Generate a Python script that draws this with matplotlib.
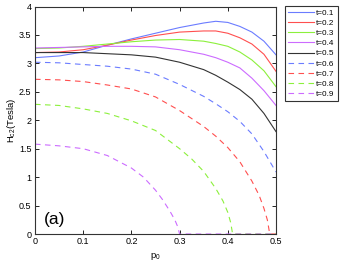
import numpy as np
import matplotlib
matplotlib.use('Agg')
import matplotlib.pyplot as plt

# values
p = [0, 0.05, 0.1, 0.15, 0.2, 0.25, 0.3, 0.35, 0.375, 0.4, 0.425, 0.45, 0.475, 0.5]
h_01 = [3.10, 3.13, 3.20, 3.32, 3.43, 3.53, 3.63, 3.71, 3.74, 3.72, 3.65, 3.55, 3.39, 3.15]
h_02 = [3.19, 3.20, 3.24, 3.32, 3.41, 3.49, 3.55, 3.57, 3.57, 3.53, 3.45, 3.34, 3.16, 2.86]
h_03 = [3.26, 3.27, 3.30, 3.34, 3.38, 3.41, 3.42, 3.39, 3.35, 3.30, 3.20, 3.06, 2.87, 2.59]
h_04 = [3.27, 3.28, 3.29, 3.30, 3.30, 3.29, 3.24, 3.16, 3.10, 3.02, 2.92, 2.74, 2.52, 2.26]
h_05 = [3.19, 3.19, 3.19, 3.17, 3.15, 3.11, 3.02, 2.89, 2.79, 2.67, 2.54, 2.37, 2.12, 1.80]
h_06 = [3.02, 3.01, 2.98, 2.95, 2.90, 2.81, 2.63, 2.42, 2.29, 2.15, 1.98, 1.76, 1.45, 1.09]

p_07 = [0, 0.05, 0.1, 0.15, 0.2, 0.25, 0.3, 0.35, 0.375, 0.4, 0.425, 0.45, 0.465, 0.475, 0.482, 0.487, 0.5]
h_07 = [2.72, 2.71, 2.68, 2.62, 2.55, 2.41, 2.17, 1.89, 1.72, 1.52, 1.27, 0.93, 0.68, 0.45, 0.25, 0.0, 0.0]
p_08 = [0, 0.05, 0.1, 0.15, 0.2, 0.25, 0.3, 0.325, 0.35, 0.375, 0.39, 0.4, 0.406, 0.41, 0.5]
h_08 = [2.28, 2.26, 2.20, 2.12, 1.99, 1.82, 1.50, 1.32, 1.10, 0.80, 0.58, 0.38, 0.20, 0.0, 0.0]
p_09 = [0, 0.05, 0.1, 0.15, 0.2, 0.225, 0.25, 0.265, 0.28, 0.29, 0.296, 0.3, 0.5]
h_09 = [1.58, 1.55, 1.50, 1.38, 1.16, 1.00, 0.77, 0.60, 0.40, 0.25, 0.13, 0.0, 0.0]

labels = ['t=0.1', 't=0.2', 't=0.3', 't=0.4', 't=0.5', 't=0.6', 't=0.7', 't=0.8', 't=0.9']
colors = ['#6b7cff', '#ff4f4f', '#8cf03c', '#cc6bff', '#333333',
          '#6b7cff', '#ff4f4f', '#8cf03c', '#cc6bff']

xticks = [0, 0.1, 0.2, 0.3, 0.4, 0.5]
xticklabels = ['0', '0.1', '0.2', '0.3', '0.4', '0.5']
yticks = [0, 0.5, 1, 1.5, 2, 2.5, 3, 3.5, 4]
yticklabels = ['0', '0.5', '1', '1.5', '2', '2.5', '3', '3.5', '4']

plt.rcParams['font.family'] = ['Liberation Sans', 'DejaVu Sans']
plt.rcParams['mathtext.fontset'] = 'custom'
plt.rcParams['mathtext.rm'] = 'Liberation Sans'
plt.rcParams['mathtext.it'] = 'Liberation Sans'
fig = plt.figure(figsize=(3.46, 2.61), dpi=100)
ax = fig.add_axes([35 / 346, 1 - 234 / 261, 241 / 346, 227.5 / 261])

series = [(p, h_01), (p, h_02), (p, h_03), (p, h_04), (p, h_05), (p, h_06),
          (p_07, h_07), (p_08, h_08), (p_09, h_09)]
for i, (xs, ys) in enumerate(series):
    ls = '-' if i < 5 else (0, (5, 4))
    ax.plot(xs, ys, color=colors[i], lw=0.8, ls=ls, label=labels[i])

ax.set_xlim(0, 0.5)
ax.set_ylim(0, 4)
ax.set_xticks(xticks)
ax.set_xticklabels(xticklabels)
ax.set_yticks(yticks)
ax.set_yticklabels(yticklabels)
ax.tick_params(direction='in', top=True, right=True, labelsize=6.5, length=3, width=0.6, pad=2.5)
for s in ax.spines.values():
    s.set_linewidth(0.8)
    s.set_color('#333333')

ax.set_xlabel('p$_0$', fontsize=6.8, labelpad=3)
ax.set_ylabel('H$_{c2}$(Tesla)', fontsize=6.8, labelpad=1)
ax.text(0.04, 0.25, '(a)', fontsize=12.5, ha='center', va='center')

leg = ax.legend(loc='upper left', bbox_to_anchor=(285 / 346, 1 - 6 / 261), bbox_transform=fig.transFigure,
                fontsize=5.9, handlelength=3.2, handletextpad=0.25, labelspacing=0.3,
                borderpad=0.35, borderaxespad=0, fancybox=False, framealpha=1)
leg.get_frame().set_edgecolor('#333333')
leg.get_frame().set_linewidth(0.8)

fig.savefig('out.png', dpi=100)
